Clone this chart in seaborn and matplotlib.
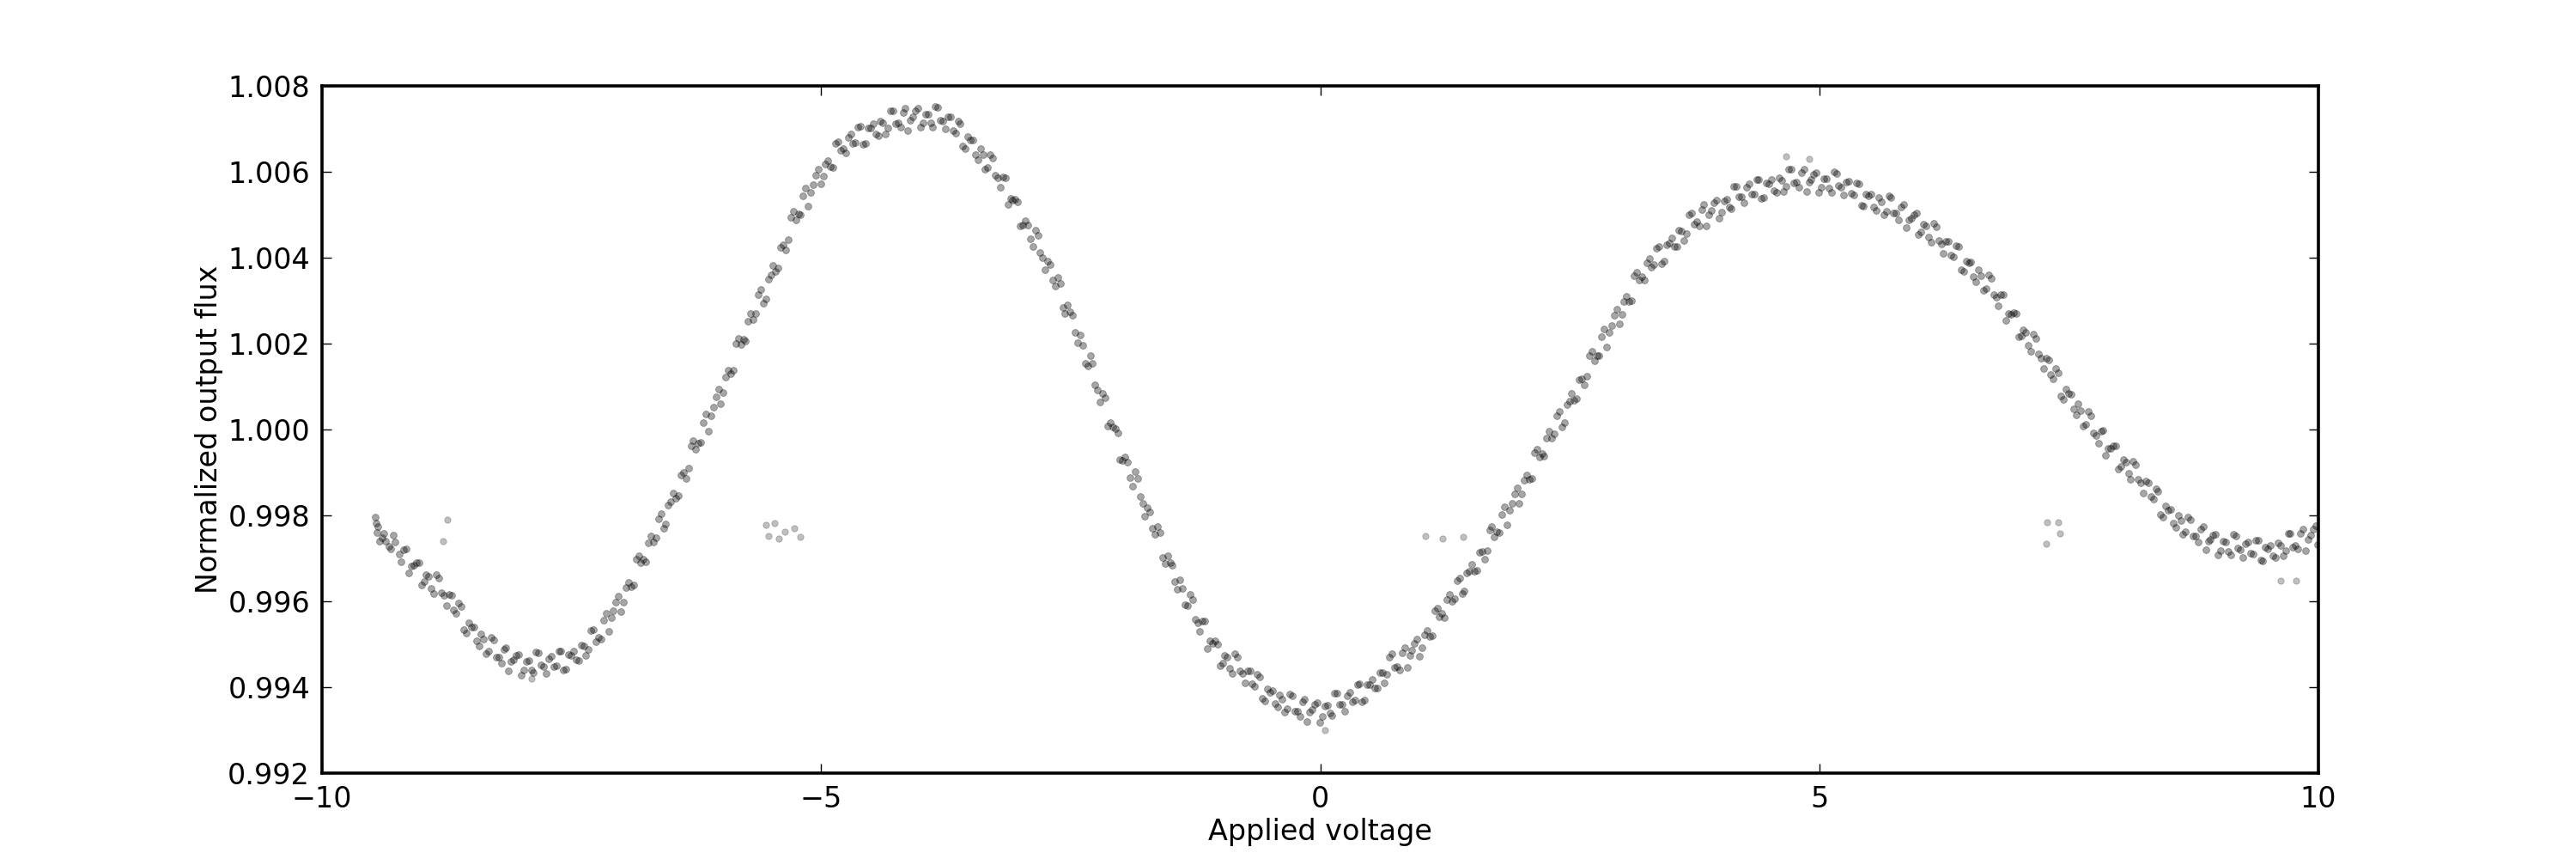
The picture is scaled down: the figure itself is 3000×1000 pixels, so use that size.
import matplotlib
matplotlib.use("Agg")
import matplotlib.pyplot as plt
from matplotlib.ticker import FormatStrFormatter
import seaborn as sns
import pandas as pd

voltage = [
    -9.47, -9.46, -9.45, -9.42, -9.38, -9.33, -9.29,
    -9.23, -9.18, -9.13, -9.08, -9.03,
    -8.98, -8.93, -8.88, -8.83, -8.78,
    -8.73, -8.68, -8.63, -8.58, -8.53,
    -8.48, -8.43, -8.38, -8.33, -8.28,
    -8.23, -8.18, -8.13, -8.08, -8.03,
    -7.98, -7.93, -7.88, -7.83, -7.78,
    -7.73, -7.68, -7.63, -7.58, -7.53,
    -7.48, -7.43, -7.38, -7.33, -7.28,
    -7.23, -7.18, -7.13, -7.08, -7.03,
    -6.98, -6.93, -6.88, -6.83, -6.78,
    -6.73, -6.68, -6.63, -6.58, -6.53,
    -6.48, -6.43, -6.38, -6.33, -6.28,
    -6.23, -6.18, -6.13, -6.08, -6.03,
    -5.98, -5.93, -5.88, -5.83, -5.78,
    -5.73, -5.68, -5.63, -5.58, -5.53,
    -5.48, -5.43, -5.38, -5.33, -5.28,
    -5.23, -5.18, -5.13, -5.08, -5.03,
    -4.98, -4.93, -4.88, -4.83, -4.78,
    -4.73, -4.68, -4.63, -4.58, -4.53,
    -4.48, -4.43, -4.38, -4.33, -4.28,
    -4.23, -4.18, -4.13, -4.08, -4.03,
    -3.98, -3.93, -3.88, -3.83, -3.78,
    -3.73, -3.68, -3.63, -3.58, -3.53,
    -3.48, -3.43, -3.38, -3.33, -3.28,
    -3.23, -3.18, -3.13, -3.08, -3.03,
    -2.98, -2.93, -2.88, -2.83, -2.78,
    -2.73, -2.68, -2.63, -2.58, -2.53,
    -2.48, -2.43, -2.38, -2.33, -2.28,
    -2.23, -2.18, -2.13, -2.08, -2.03,
    -1.98, -1.93, -1.88, -1.83, -1.78,
    -1.73, -1.68, -1.63, -1.58, -1.53,
    -1.48, -1.43, -1.38, -1.33, -1.28,
    -1.23, -1.18, -1.13, -1.08, -1.03,
    -0.98, -0.93, -0.88, -0.83, -0.78,
    -0.73, -0.68, -0.63, -0.58, -0.53,
    -0.48, -0.43, -0.38, -0.33, -0.28,
    -0.23, -0.18, -0.13, -0.08, -0.03,
    0.02, 0.07, 0.12, 0.17, 0.22,
    0.27, 0.32, 0.37, 0.42, 0.47,
    0.52, 0.57, 0.62, 0.67, 0.72,
    0.77, 0.82, 0.87, 0.92, 0.97,
    1.02, 1.07, 1.12, 1.17, 1.22,
    1.27, 1.32, 1.37, 1.42, 1.47,
    1.52, 1.57, 1.62, 1.67, 1.72,
    1.77, 1.82, 1.87, 1.92, 1.97,
    2.02, 2.07, 2.12, 2.17, 2.22,
    2.27, 2.32, 2.37, 2.42, 2.47,
    2.52, 2.57, 2.62, 2.67, 2.72,
    2.77, 2.82, 2.87, 2.92, 2.97,
    3.02, 3.07, 3.12, 3.17, 3.22,
    3.27, 3.32, 3.37, 3.42, 3.47,
    3.52, 3.57, 3.62, 3.67, 3.72,
    3.77, 3.82, 3.87, 3.92, 3.97,
    4.02, 4.07, 4.12, 4.17, 4.22,
    4.27, 4.32, 4.37, 4.42, 4.47,
    4.52, 4.57, 4.62, 4.67, 4.72,
    4.77, 4.82, 4.87, 4.92, 4.97,
    5.02, 5.07, 5.12, 5.17, 5.22,
    5.27, 5.32, 5.37, 5.42, 5.47,
    5.52, 5.57, 5.62, 5.67, 5.72,
    5.77, 5.82, 5.87, 5.92, 5.97,
    6.02, 6.07, 6.12, 6.17, 6.22,
    6.27, 6.32, 6.37, 6.42, 6.47,
    6.52, 6.57, 6.62, 6.67, 6.72,
    6.77, 6.82, 6.87, 6.92, 6.97,
    7.02, 7.07, 7.12, 7.17, 7.22,
    7.27, 7.32, 7.37, 7.42, 7.47,
    7.52, 7.57, 7.62, 7.67, 7.72,
    7.77, 7.82, 7.87, 7.92, 7.97,
    8.02, 8.07, 8.12, 8.17, 8.22,
    8.27, 8.32, 8.37, 8.42, 8.47,
    8.52, 8.57, 8.62, 8.67, 8.72,
    8.77, 8.82, 8.87, 8.92, 8.97,
    9.02, 9.07, 9.12, 9.17, 9.22,
    9.27, 9.32, 9.37, 9.42, 9.47,
    9.52, 9.57, 9.62, 9.67, 9.72,
    9.77, 9.82, 9.87, 9.92, 9.97,
]

flux = [
    0.99796, 0.99782, 0.99760, 0.99740, 0.99758, 0.99728, 0.99755,
    0.99710, 0.99721, 0.99666, 0.99685, 0.99691,
    0.99646, 0.99658, 0.99619, 0.99655, 0.99614,
    0.99617, 0.99580, 0.99596, 0.99534, 0.99550,
    0.99540, 0.99497, 0.99512, 0.99484, 0.99510,
    0.99470, 0.99488, 0.99439, 0.99464, 0.99477,
    0.99440, 0.99462, 0.99434, 0.99480, 0.99449,
    0.99467, 0.99449, 0.99484, 0.99441, 0.99476,
    0.99485, 0.99462, 0.99497, 0.99489, 0.99535,
    0.99516, 0.99556, 0.99530, 0.99578, 0.99613,
    0.99599, 0.99644, 0.99638, 0.99707, 0.99699,
    0.99737, 0.99739, 0.99793, 0.99770, 0.99824,
    0.99853, 0.99847, 0.99900, 0.99910, 0.99974,
    0.99969, 1.00016, 0.99997, 1.00052, 1.00094,
    1.00086, 1.00137, 1.00137, 1.00212, 1.00210,
    1.00253, 1.00257, 1.00314, 1.00293, 1.00350,
    1.00381, 1.00377, 1.00431, 1.00443, 1.00508,
    1.00502, 1.00544, 1.00520, 1.00570, 1.00607,
    1.00590, 1.00626, 1.00611, 1.00671, 1.00654,
    1.00681, 1.00666, 1.00704, 1.00664, 1.00702,
    1.00712, 1.00684, 1.00714, 1.00702, 1.00743,
    1.00715, 1.00739, 1.00697, 1.00729, 1.00748,
    1.00714, 1.00735, 1.00705, 1.00750, 1.00718,
    1.00729, 1.00697, 1.00718, 1.00661, 1.00682,
    1.00674, 1.00628, 1.00640, 1.00610, 1.00633,
    1.00586, 1.00588, 1.00524, 1.00534, 1.00531,
    1.00476, 1.00477, 1.00427, 1.00452, 1.00400,
    1.00393, 1.00347, 1.00354, 1.00283, 1.00290,
    1.00267, 1.00203, 1.00197, 1.00149, 1.00154,
    1.00092, 1.00083, 1.00008, 1.00007, 0.99993,
    0.99929, 0.99924, 0.99868, 0.99887, 0.99829,
    0.99818, 0.99770, 0.99775, 0.99702, 0.99707,
    0.99685, 0.99629, 0.99631, 0.99591, 0.99604,
    0.99551, 0.99554, 0.99491, 0.99502, 0.99500,
    0.99456, 0.99470, 0.99433, 0.99471, 0.99432,
    0.99439, 0.99408, 0.99430, 0.99374, 0.99396,
    0.99392, 0.99354, 0.99373, 0.99351, 0.99381,
    0.99345, 0.99366, 0.99321, 0.99349, 0.99365,
    0.99332, 0.99359, 0.99335, 0.99386, 0.99360,
    0.99381, 0.99367, 0.99406, 0.99367, 0.99406,
    0.99419, 0.99398, 0.99435, 0.99430, 0.99478,
    0.99448, 0.99480, 0.99446, 0.99486, 0.99513,
    0.99492, 0.99532, 0.99521, 0.99585, 0.99572,
    0.99605, 0.99600, 0.99648, 0.99618, 0.99666,
    0.99687, 0.99673, 0.99717, 0.99719, 0.99774,
    0.99762, 0.99803, 0.99779, 0.99829, 0.99865,
    0.99851, 0.99895, 0.99887, 0.99954, 0.99945,
    0.99981, 0.99980, 1.00032, 1.00006, 1.00058,
    1.00083, 1.00072, 1.00119, 1.00124, 1.00182,
    1.00172, 1.00215, 1.00192, 1.00243, 1.00281,
    1.00268, 1.00310, 1.00301, 1.00367, 1.00356,
    1.00388, 1.00378, 1.00422, 1.00387, 1.00431,
    1.00446, 1.00425, 1.00462, 1.00457, 1.00505,
    1.00484, 1.00512, 1.00475, 1.00511, 1.00535,
    1.00507, 1.00536, 1.00514, 1.00567, 1.00543,
    1.00565, 1.00547, 1.00582, 1.00539, 1.00574,
    1.00581, 1.00552, 1.00580, 1.00567, 1.00606,
    1.00577, 1.00598, 1.00554, 1.00583, 1.00599,
    1.00564, 1.00584, 1.00553, 1.00597, 1.00565,
    1.00577, 1.00550, 1.00575, 1.00523, 1.00549,
    1.00548, 1.00510, 1.00531, 1.00509, 1.00540,
    1.00503, 1.00519, 1.00469, 1.00492, 1.00503,
    1.00461, 1.00474, 1.00436, 1.00473, 1.00433,
    1.00439, 1.00407, 1.00428, 1.00371, 1.00392,
    1.00390, 1.00345, 1.00358, 1.00329, 1.00353,
    1.00308, 1.00314, 1.00254, 1.00268, 1.00269,
    1.00219, 1.00226, 1.00182, 1.00213, 1.00167,
    1.00166, 1.00128, 1.00143, 1.00079, 1.00094,
    1.00082, 1.00034, 1.00044, 1.00012, 1.00033,
    0.99987, 0.99996, 0.99940, 0.99957, 0.99962,
    0.99915, 0.99925, 0.99885, 0.99919, 0.99877,
    0.99880, 0.99845, 0.99863, 0.99803, 0.99822,
    0.99814, 0.99773, 0.99789, 0.99763, 0.99791,
    0.99752, 0.99769, 0.99720, 0.99745, 0.99757,
    0.99719, 0.99739, 0.99709, 0.99753, 0.99721,
    0.99735, 0.99713, 0.99743, 0.99696, 0.99726,
    0.99731, 0.99702, 0.99731, 0.99718, 0.99758,
    0.99731, 0.99758, 0.99719, 0.99754, 0.99776,
]

# Second pass of the sweep (interleaved readings of the same band)
voltage2 = [
    -9.44, -9.40, -9.36, -9.31, -9.27,
    -9.205, -9.155, -9.105, -9.055, -9.005,
    -8.955, -8.905, -8.855, -8.805, -8.755,
    -8.705, -8.655, -8.605, -8.555, -8.505,
    -8.455, -8.405, -8.355, -8.305, -8.255,
    -8.205, -8.155, -8.105, -8.055, -8.005,
    -7.955, -7.905, -7.855, -7.805, -7.755,
    -7.705, -7.655, -7.605, -7.555, -7.505,
    -7.455, -7.405, -7.355, -7.305, -7.255,
    -7.205, -7.155, -7.105, -7.055, -7.005,
    -6.955, -6.905, -6.855, -6.805, -6.755,
    -6.705, -6.655, -6.605, -6.555, -6.505,
    -6.455, -6.405, -6.355, -6.305, -6.255,
    -6.205, -6.155, -6.105, -6.055, -6.005,
    -5.955, -5.905, -5.855, -5.805, -5.755,
    -5.705, -5.655, -5.605, -5.555, -5.505,
    -5.455, -5.405, -5.355, -5.305, -5.255,
    -5.205, -5.155, -5.105, -5.055, -5.005,
    -4.955, -4.905, -4.855, -4.805, -4.755,
    -4.705, -4.655, -4.605, -4.555, -4.505,
    -4.455, -4.405, -4.355, -4.305, -4.255,
    -4.205, -4.155, -4.105, -4.055, -4.005,
    -3.955, -3.905, -3.855, -3.805, -3.755,
    -3.705, -3.655, -3.605, -3.555, -3.505,
    -3.455, -3.405, -3.355, -3.305, -3.255,
    -3.205, -3.155, -3.105, -3.055, -3.005,
    -2.955, -2.905, -2.855, -2.805, -2.755,
    -2.705, -2.655, -2.605, -2.555, -2.505,
    -2.455, -2.405, -2.355, -2.305, -2.255,
    -2.205, -2.155, -2.105, -2.055, -2.005,
    -1.955, -1.905, -1.855, -1.805, -1.755,
    -1.705, -1.655, -1.605, -1.555, -1.505,
    -1.455, -1.405, -1.355, -1.305, -1.255,
    -1.205, -1.155, -1.105, -1.055, -1.005,
    -0.955, -0.905, -0.855, -0.805, -0.755,
    -0.705, -0.655, -0.605, -0.555, -0.505,
    -0.455, -0.405, -0.355, -0.305, -0.255,
    -0.205, -0.155, -0.105, -0.055, -0.005,
    0.045, 0.095, 0.145, 0.195, 0.245,
    0.295, 0.345, 0.395, 0.445, 0.495,
    0.545, 0.595, 0.645, 0.695, 0.745,
    0.795, 0.845, 0.895, 0.945, 0.995,
    1.045, 1.095, 1.145, 1.195, 1.245,
    1.295, 1.345, 1.395, 1.445, 1.495,
    1.545, 1.595, 1.645, 1.695, 1.745,
    1.795, 1.845, 1.895, 1.945, 1.995,
    2.045, 2.095, 2.145, 2.195, 2.245,
    2.295, 2.345, 2.395, 2.445, 2.495,
    2.545, 2.595, 2.645, 2.695, 2.745,
    2.795, 2.845, 2.895, 2.945, 2.995,
    3.045, 3.095, 3.145, 3.195, 3.245,
    3.295, 3.345, 3.395, 3.445, 3.495,
    3.545, 3.595, 3.645, 3.695, 3.745,
    3.795, 3.845, 3.895, 3.945, 3.995,
    4.045, 4.095, 4.145, 4.195, 4.245,
    4.295, 4.345, 4.395, 4.445, 4.495,
    4.545, 4.595, 4.645, 4.695, 4.745,
    4.795, 4.845, 4.895, 4.945, 4.995,
    5.045, 5.095, 5.145, 5.195, 5.245,
    5.295, 5.345, 5.395, 5.445, 5.495,
    5.545, 5.595, 5.645, 5.695, 5.745,
    5.795, 5.845, 5.895, 5.945, 5.995,
    6.045, 6.095, 6.145, 6.195, 6.245,
    6.295, 6.345, 6.395, 6.445, 6.495,
    6.545, 6.595, 6.645, 6.695, 6.745,
    6.795, 6.845, 6.895, 6.945, 6.995,
    7.045, 7.095, 7.145, 7.195, 7.245,
    7.295, 7.345, 7.395, 7.445, 7.495,
    7.545, 7.595, 7.645, 7.695, 7.745,
    7.795, 7.845, 7.895, 7.945, 7.995,
    8.045, 8.095, 8.145, 8.195, 8.245,
    8.295, 8.345, 8.395, 8.445, 8.495,
    8.545, 8.595, 8.645, 8.695, 8.745,
    8.795, 8.845, 8.895, 8.945, 8.995,
    9.045, 9.095, 9.145, 9.195, 9.245,
    9.295, 9.345, 9.395, 9.445, 9.495,
    9.545, 9.595, 9.645, 9.695, 9.745,
    9.795, 9.845, 9.895, 9.945, 9.990,
]

flux2 = [
    0.99775, 0.99748, 0.99740, 0.99722, 0.99738,
    0.99692, 0.99723, 0.99683, 0.99691, 0.99639,
    0.99662, 0.99631, 0.99662, 0.99621, 0.99591,
    0.99614, 0.99572, 0.99588, 0.99526, 0.99540,
    0.99509, 0.99524, 0.99479, 0.99517, 0.99471,
    0.99456, 0.99493, 0.99460, 0.99474, 0.99428,
    0.99461, 0.99441, 0.99482, 0.99452, 0.99432,
    0.99473, 0.99450, 0.99485, 0.99442, 0.99475,
    0.99464, 0.99499, 0.99474, 0.99532, 0.99506,
    0.99513, 0.99573, 0.99562, 0.99599, 0.99576,
    0.99632, 0.99634, 0.99698, 0.99690, 0.99693,
    0.99753, 0.99749, 0.99804, 0.99780, 0.99833,
    0.99840, 0.99894, 0.99886, 0.99962, 0.99954,
    0.99970, 1.00037, 1.00033, 1.00077, 1.00061,
    1.00122, 1.00130, 1.00200, 1.00198, 1.00207,
    1.00270, 1.00269, 1.00326, 1.00305, 1.00360,
    1.00369, 1.00424, 1.00418, 1.00495, 1.00489,
    1.00500, 1.00562, 1.00553, 1.00592, 1.00571,
    1.00619, 1.00612, 1.00667, 1.00650, 1.00644,
    1.00688, 1.00668, 1.00706, 1.00666, 1.00702,
    1.00688, 1.00719, 1.00689, 1.00742, 1.00712,
    1.00704, 1.00748, 1.00721, 1.00742, 1.00703,
    1.00735, 1.00713, 1.00753, 1.00721, 1.00700,
    1.00728, 1.00691, 1.00712, 1.00655, 1.00674,
    1.00641, 1.00654, 1.00606, 1.00641, 1.00593,
    1.00564, 1.00586, 1.00537, 1.00536, 1.00475,
    1.00487, 1.00445, 1.00465, 1.00413, 1.00372,
    1.00385, 1.00334, 1.00341, 1.00270, 1.00275,
    1.00225, 1.00220, 1.00154, 1.00171, 1.00105,
    1.00064, 1.00075, 1.00015, 1.00003, 0.99931,
    0.99937, 0.99889, 0.99903, 0.99845, 0.99798,
    0.99809, 0.99756, 0.99761, 0.99688, 0.99691,
    0.99647, 0.99650, 0.99592, 0.99617, 0.99559,
    0.99531, 0.99555, 0.99508, 0.99509, 0.99450,
    0.99474, 0.99445, 0.99478, 0.99439, 0.99411,
    0.99439, 0.99403, 0.99425, 0.99369, 0.99389,
    0.99363, 0.99383, 0.99343, 0.99385, 0.99345,
    0.99333, 0.99373, 0.99343, 0.99361, 0.99318,
    0.99356, 0.99340, 0.99386, 0.99360, 0.99345,
    0.99389, 0.99370, 0.99409, 0.99370, 0.99407,
    0.99398, 0.99435, 0.99411, 0.99470, 0.99446,
    0.99441, 0.99493, 0.99474, 0.99503, 0.99472,
    0.99522, 0.99519, 0.99578, 0.99565, 0.99563,
    0.99617, 0.99607, 0.99655, 0.99625, 0.99671,
    0.99670, 0.99715, 0.99699, 0.99766, 0.99750,
    0.99760, 0.99821, 0.99812, 0.99850, 0.99829,
    0.99883, 0.99884, 0.99946, 0.99937, 0.99938,
    0.99996, 0.99990, 1.00042, 1.00016, 1.00066,
    1.00068, 1.00116, 1.00103, 1.00173, 1.00160,
    1.00171, 1.00234, 1.00226, 1.00266, 1.00246,
    1.00299, 1.00298, 1.00359, 1.00348, 1.00348,
    1.00398, 1.00384, 1.00427, 1.00392, 1.00434,
    1.00426, 1.00464, 1.00441, 1.00501, 1.00478,
    1.00475, 1.00524, 1.00501, 1.00527, 1.00492,
    1.00532, 1.00518, 1.00566, 1.00542, 1.00529,
    1.00571, 1.00548, 1.00583, 1.00540, 1.00573,
    1.00556, 1.00586, 1.00555, 1.00606, 1.00575,
    1.00564, 1.00606, 1.00576, 1.00595, 1.00553,
    1.00584, 1.00562, 1.00601, 1.00568, 1.00546,
    1.00578, 1.00546, 1.00572, 1.00520, 1.00544,
    1.00519, 1.00540, 1.00501, 1.00544, 1.00505,
    1.00488, 1.00524, 1.00488, 1.00501, 1.00454,
    1.00478, 1.00448, 1.00480, 1.00440, 1.00411,
    1.00439, 1.00403, 1.00425, 1.00369, 1.00389,
    1.00357, 1.00371, 1.00324, 1.00360, 1.00313,
    1.00288, 1.00314, 1.00269, 1.00272, 1.00215,
    1.00233, 1.00197, 1.00223, 1.00177, 1.00142,
    1.00162, 1.00119, 1.00133, 1.00070, 1.00083,
    1.00048, 1.00059, 1.00009, 1.00042, 0.99992,
    0.99969, 0.99998, 0.99956, 0.99963, 0.99909,
    0.99931, 0.99898, 0.99927, 0.99885, 0.99853,
    0.99877, 0.99838, 0.99856, 0.99796, 0.99812,
    0.99783, 0.99801, 0.99757, 0.99797, 0.99753,
    0.99738, 0.99775, 0.99741, 0.99755, 0.99709,
    0.99740, 0.99717, 0.99756, 0.99724, 0.99702,
    0.99739, 0.99711, 0.99742, 0.99694, 0.99723,
    0.99707, 0.99737, 0.99706, 0.99758, 0.99727,
    0.99722, 0.99769, 0.99745, 0.99769, 0.99733,
]

# Isolated points away from the main band
stray_voltage = [-8.74, -8.79, -7.90, 0.05,
                 -5.55, -5.47, -5.53, -5.42, -5.36, -5.27, -5.21,
                 1.05, 1.23, 1.43,
                 4.67, 4.90,
                 7.27, 7.28, 7.39, 7.41,
                 9.62, 9.78]
stray_flux = [0.99790, 0.99740, 0.99420, 0.99300,
              0.99779, 0.99782, 0.99753, 0.99747, 0.99762, 0.99770, 0.99750,
              0.99752, 0.99747, 0.99750,
              1.00636, 1.00630,
              0.99734, 0.99785, 0.99785, 0.99759,
              0.99648, 0.99648]

x_ticks = [-10, -5, 0, 5, 10]
y_ticks = [0.992, 0.994, 0.996, 0.998, 1.000, 1.002, 1.004, 1.006, 1.008]

band = pd.DataFrame({"voltage": voltage + voltage2, "flux": flux + flux2})
stray = pd.DataFrame({"voltage": stray_voltage, "flux": stray_flux})

plt.rcParams["font.family"] = ["DejaVu Sans"]
plt.rcParams["axes.unicode_minus"] = True

fig, ax = plt.subplots(figsize=(15, 5), dpi=200)
fig.patch.set_facecolor("white")
fig.subplots_adjust(left=0.125, right=0.9, bottom=0.1, top=0.9)

sns.scatterplot(data=band, x="voltage", y="flux", color="black", alpha=0.35,
                s=8, edgecolor="black", linewidth=0.3, legend=False, ax=ax)
sns.scatterplot(data=stray, x="voltage", y="flux", color="black", alpha=0.25,
                s=7, edgecolor="black", linewidth=0.3, legend=False, ax=ax)

ax.set_xlim(-10, 10)
ax.set_ylim(0.992, 1.008)
ax.set_xticks(x_ticks)
ax.set_yticks(y_ticks)
ax.yaxis.set_major_formatter(FormatStrFormatter("%.3f"))
ax.tick_params(direction="in", top=True, right=True, length=4, width=0.5,
               labelsize=12, pad=5)
for sp in ax.spines.values():
    sp.set_linewidth(1.3)
    sp.set_color("black")
ax.set_facecolor("white")
ax.grid(False)
ax.set_xlabel("Applied voltage", fontsize=12, labelpad=2)
ax.set_ylabel("Normalized output flux", fontsize=12, labelpad=2)

fig.savefig("out.png", dpi=200, facecolor="white")
